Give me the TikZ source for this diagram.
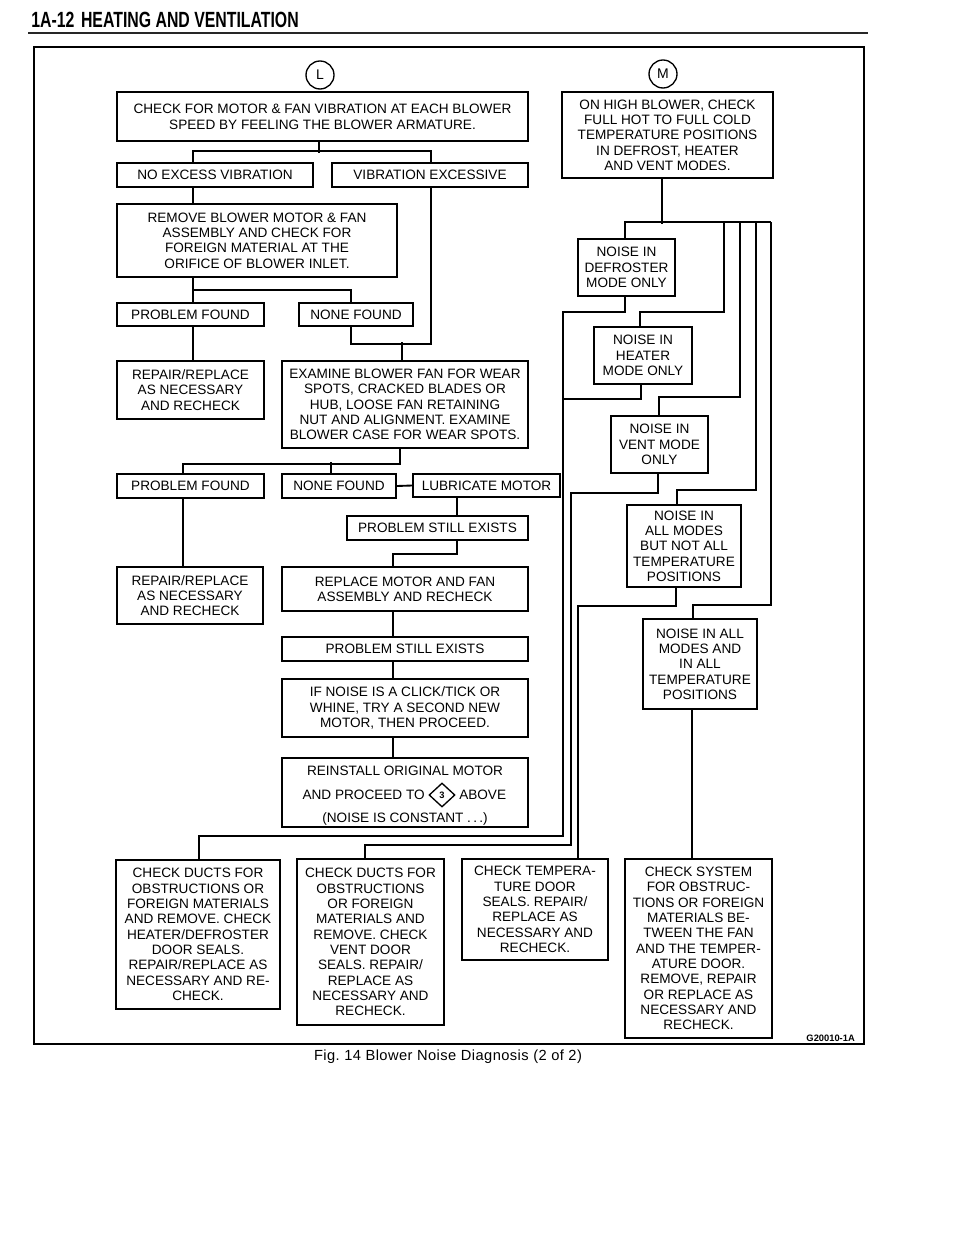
\documentclass[tikz,border=0pt]{standalone}
\usepackage{fontspec}
\setmainfont{Liberation Sans}
\newfontfamily\hdrfont[FakeStretch=0.72]{Liberation Sans}
\newfontfamily\capfont[LetterSpace=3]{Liberation Sans}
\usetikzlibrary{calc,shapes.geometric}
\tikzset{
  boxst/.style={draw, line width=1pt, align=center, inner sep=0pt,
    font=\fontsize{10.2}{11.5}\selectfont},
  conn/.style={line width=1.4pt, line join=miter},
  circ/.style={draw, circle, line width=1pt, inner sep=0pt, minimum size=28pt*0.75,
    font=\fontsize{10.5}{10.5}\selectfont},
}
\newcommand{\bx}[7][]{%
  \node[boxst,#1, minimum width={(#4-#2)*0.75pt}, minimum height={(#5-#3)*0.75pt}]
    (#6) at ({(#2+#4)/2},{(#3+#5)/2}) {#7};}
\begin{document}
\begin{tikzpicture}[x=0.75pt,y=-0.75pt]
\useasboundingbox (0,0) rectangle (960,1237);
% header
\node[anchor=base west, inner sep=0pt, font=\hdrfont\bfseries\fontsize{16.5}{16.5}\selectfont] (hdr) at (31,28) {1A-12\hspace{5pt}HEATING AND VENTILATION};
\draw[line width=1.5pt, black!85] (28,33) -- (868,33);
% frame
\draw[line width=1.1pt] (34,47) rectangle (864,1044);
\node[anchor=base, inner sep=0pt, font=\capfont\fontsize{11}{12}\selectfont] (cap) at (448,1060) {Fig.\ 14 Blower Noise Diagnosis (2 of 2)};
\node[anchor=base east, inner sep=0pt, font=\bfseries\fontsize{7}{7}\selectfont] (gid) at (855,1041) {G20010-1A};
% circles
\node[circ] (cL) at (320,75) {L};
\node[circ] (cM) at (663,74) {M};
% left column
\bx[font=\fontsize{10.2}{12}\selectfont]{117}{92}{528}{141}{A}{CHECK FOR MOTOR \& FAN VIBRATION AT EACH BLOWER\\SPEED BY FEELING THE BLOWER ARMATURE.}
\bx{117}{163}{313}{187}{B}{NO EXCESS VIBRATION}
\bx{332}{163}{528}{187}{C}{VIBRATION EXCESSIVE}
\bx{117}{204}{397}{277}{D}{REMOVE BLOWER MOTOR \& FAN\\ASSEMBLY AND CHECK FOR\\FOREIGN MATERIAL AT THE\\ORIFICE OF BLOWER INLET.}
\bx{117}{303}{264}{326}{E}{PROBLEM FOUND}
\bx{299}{303}{413}{326}{F}{NONE FOUND}
\bx{117}{361}{264}{419}{G}{REPAIR/REPLACE\\AS NECESSARY\\AND RECHECK}
\bx{282}{361}{528}{448}{H}{EXAMINE BLOWER FAN FOR WEAR\\SPOTS, CRACKED BLADES OR\\HUB, LOOSE FAN RETAINING\\NUT AND ALIGNMENT. EXAMINE\\BLOWER CASE FOR WEAR SPOTS.}
\bx{117}{474}{264}{498}{I}{PROBLEM FOUND}
\bx{282}{474}{396}{498}{J}{NONE FOUND}
\bx{413}{474}{560}{497}{K}{LUBRICATE MOTOR}
\bx{347}{516}{528}{540}{Lb}{PROBLEM STILL EXISTS}
\bx{117}{567}{263}{624}{M2}{REPAIR/REPLACE\\AS NECESSARY\\AND RECHECK}
\bx{282}{567}{528}{611}{N}{REPLACE MOTOR AND FAN\\ASSEMBLY AND RECHECK}
\bx{282}{637}{528}{661}{O}{PROBLEM STILL EXISTS}
\bx{282}{679}{528}{737}{P}{IF NOISE IS A CLICK/TICK OR\\WHINE, TRY A SECOND NEW\\MOTOR, THEN PROCEED.}
\bx{282}{758}{528}{827}{Q}{}
\node[anchor=base, inner sep=0pt, font=\fontsize{10.2}{11.5}\selectfont] (q1) at (405,775) {REINSTALL ORIGINAL MOTOR};
\node[anchor=base east, inner sep=0pt, font=\fontsize{10.2}{11.5}\selectfont] (q2) at (425,799) {AND PROCEED TO};
\node[draw, diamond, line width=1pt, inner sep=0pt, minimum width=26*0.75pt, minimum height=24*0.75pt, font=\bfseries\fontsize{7}{7}\selectfont] (dia) at (442,795) {3};
\node[anchor=base west, inner sep=0pt, font=\fontsize{10.2}{11.5}\selectfont] (q3) at (459,799) {ABOVE};
\node[anchor=base, inner sep=0pt, font=\fontsize{10.2}{11.5}\selectfont] (q4) at (405,822) {(NOISE IS CONSTANT .\,.\,.)};
% right column
\bx{562}{92}{773}{178}{R}{ON HIGH BLOWER, CHECK\\FULL HOT TO FULL COLD\\TEMPERATURE POSITIONS\\IN DEFROST, HEATER\\AND VENT MODES.}
\bx{578}{239}{675}{296}{S}{NOISE IN\\DEFROSTER\\MODE ONLY}
\bx{594}{327}{692}{384}{T}{NOISE IN\\HEATER\\MODE ONLY}
\bx{611}{416}{708}{473}{U}{NOISE IN\\VENT MODE\\ONLY}
\bx{627}{505}{741}{587}{V}{NOISE IN\\ALL MODES\\BUT NOT ALL\\TEMPERATURE\\POSITIONS}
\bx{643}{619}{757}{709}{W}{NOISE IN ALL\\MODES AND\\IN ALL\\TEMPERATURE\\POSITIONS}
% bottom row
\bx{116}{860}{280}{1009}{X1}{CHECK DUCTS FOR\\OBSTRUCTIONS OR\\FOREIGN MATERIALS\\AND REMOVE. CHECK\\HEATER/DEFROSTER\\DOOR SEALS.\\REPAIR/REPLACE AS\\NECESSARY AND RE-\\CHECK.}
\bx{297}{859}{444}{1025}{X2}{CHECK DUCTS FOR\\OBSTRUCTIONS\\OR FOREIGN\\MATERIALS AND\\REMOVE. CHECK\\VENT DOOR\\SEALS. REPAIR/\\REPLACE AS\\NECESSARY AND\\RECHECK.}
\bx{462}{859}{608}{960}{X3}{CHECK TEMPERA-\\TURE DOOR\\SEALS. REPAIR/\\REPLACE AS\\NECESSARY AND\\RECHECK.}
\bx{625}{859}{772}{1038}{X4}{CHECK SYSTEM\\FOR OBSTRUC-\\TIONS OR FOREIGN\\MATERIALS BE-\\TWEEN THE FAN\\AND THE TEMPER-\\ATURE DOOR.\\REMOVE, REPAIR\\OR REPLACE AS\\NECESSARY AND\\RECHECK.}
% connectors left
\draw[conn] ($(A.south west)+(203,0)$) -- ++(0,11);
\draw[conn] ($(B.north west)+(77,0)$) -- ++(0,-11) -- ++(238,0) -- ($(C.north west)+(100,0)$);
\draw[conn] ($(B.south west)+(77,0)$) -- ($(D.north west)+(77,0)$);
\draw[conn] ($(D.south west)+(77,0)$) -- ($(E.north west)+(77,0)$);
\draw[conn] ($(D.south west)+(77,12)$) -| ($(F.north west)+(53,0)$);
\draw[conn] ($(E.south west)+(77,0)$) -- ($(G.north west)+(77,0)$);
\draw[conn] ($(C.south west)+(100,0)$) |- ($(F.south west)+(53,17)$) -- ($(F.south west)+(53,0)$);
\draw[conn] ($(H.north west)+(121,0)$) -- ++(0,-18);
\draw[conn] ($(H.south west)+(119,0)$) -- ++(0,15) -| ($(I.north west)+(67,0)$);
\draw[conn] ($(J.north west)+(50,0)$) -- ++(0,-11);
\draw[conn] (J.east) -- (K.west);
\draw[conn] ($(K.south west)+(45,0)$) -- ($(Lb.north west)+(111,0)$);
\draw[conn] ($(Lb.south west)+(111,0)$) -- ++(0,13) -| ($(N.north west)+(112,0)$);
\draw[conn] ($(I.south west)+(67,0)$) -- ($(M2.north west)+(67,0)$);
\draw[conn] ($(N.south west)+(112,0)$) -- ($(O.north west)+(112,0)$);
\draw[conn] ($(O.south west)+(112,0)$) -- ($(P.north west)+(112,0)$);
\draw[conn] ($(P.south west)+(112,0)$) -- ($(Q.north west)+(112,0)$);
% connectors right
\draw[conn] ($(R.south west)+(101,0)$) -- ++(0,45);
\draw[conn] ($(S.north west)+(48,0)$) -- ++(0,-16) -- ++(146,0);
\draw[conn] ($(S.south west)+(48,0)$) -- ++(0,15) -- ++(-62,0) |- ($(X1.north west)+(84,-23)$) -- ($(X1.north west)+(84,0)$);
\draw[conn] ($(T.north west)+(47,0)$) -- ++(0,-14) -- ++(84,0) -- ++(0,-90);
\draw[conn] ($(T.south west)+(48,0)$) -- ++(0,14) -- ++(-78,0);
\draw[conn] ($(U.north west)+(49,0)$) -- ++(0,-18) -- ++(81,0) -- ++(0,-175);
\draw[conn] ($(U.south west)+(48,0)$) -- ++(0,19) -- ++(-87,0) |- ($(X2.north west)+(69,-13)$) -- ($(X2.north west)+(69,0)$);
\draw[conn] ($(V.north west)+(51,0)$) -- ++(0,-14) -- ++(79,0) -- ++(0,-268);
\draw[conn] ($(V.south west)+(50,0)$) -- ++(0,18) -| ($(X3.north west)+(117,0)$);
\draw[conn] ($(W.north west)+(51,0)$) -- ++(0,-13) -- ++(78,0) -- ++(0,-383);
\draw[conn] ($(W.south west)+(50,0)$) -- ($(X4.north west)+(68,0)$);
\end{tikzpicture}
\end{document}
